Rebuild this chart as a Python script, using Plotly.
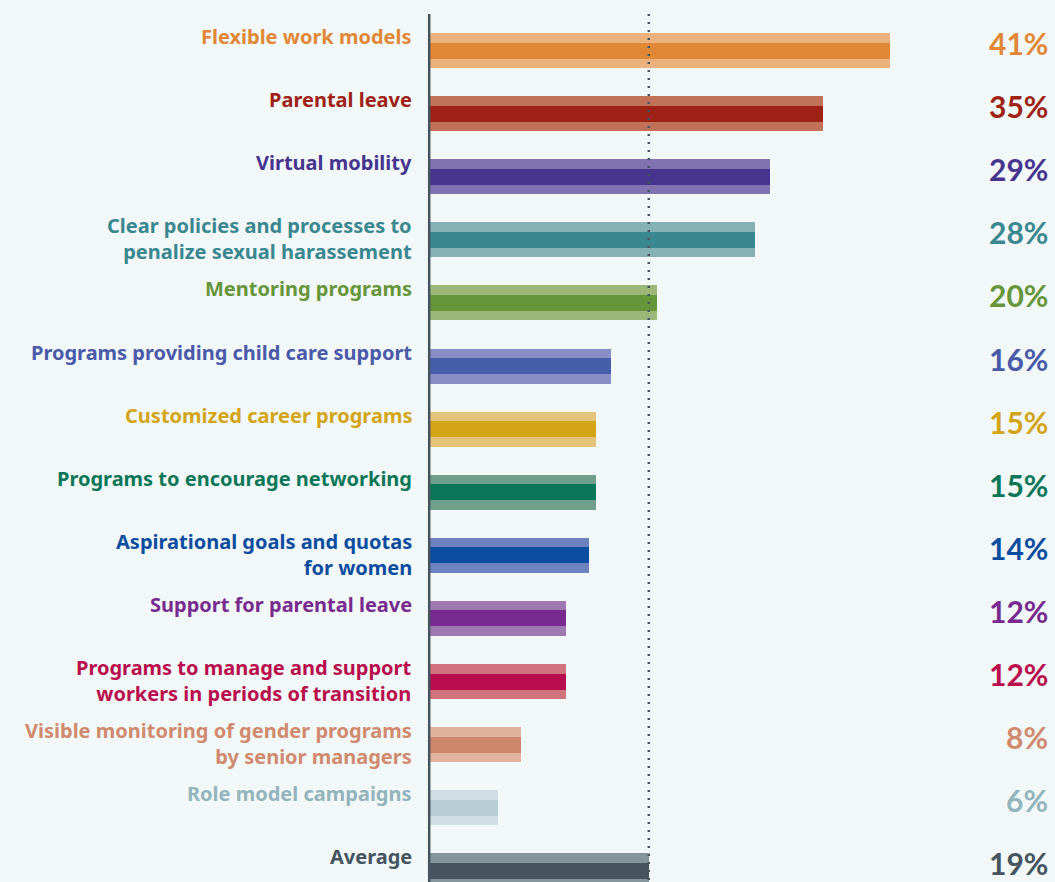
import plotly.graph_objects as go

categories = [
    "Flexible work models",
    "Parental leave",
    "Virtual mobility",
    "Clear policies and processes to<br>penalize sexual harassement",
    "Mentoring programs",
    "Programs providing child care support",
    "Customized career programs",
    "Programs to encourage networking",
    "Aspirational goals and quotas<br>for women",
    "Support for parental leave",
    "Programs to manage and support<br>workers in periods of transition",
    "Visible monitoring of gender programs<br>by senior managers",
    "Role model campaigns",
    "Average",
]
values = [41.0, 35.0, 30.3, 29.0, 20.2, 16.1, 14.8, 14.8, 14.2, 12.1, 12.1, 8.1, 6.1, 19.5]
value_labels = ["41%", "35%", "29%", "28%", "20%", "16%", "15%", "15%", "14%", "12%", "12%", "8%", "6%", "19%"]
dark_colors = ["#e08836", "#9e2216", "#46358f", "#3a8790", "#669639", "#465ea9", "#d3a517",
               "#0b7758", "#0c4d9f", "#782b8e", "#b90e4e", "#cd8669", "#b6ced4", "#45545f"]
light_colors = ["#ecb27d", "#c27258", "#8173b2", "#85b0b6", "#9bb879", "#8a8ec6", "#e3c47a",
                "#70a08b", "#6e82c0", "#a078b2", "#d1737f", "#e0b39f", "#d0dfe3", "#85959c"]
text_colors = ["#e08836", "#9e2216", "#46358f", "#3a8790", "#669639", "#4a5aa8", "#d3a517",
               "#0b7758", "#0c4d9f", "#782b8e", "#b90e4e", "#d08a6e", "#93b4bb", "#45545f"]
average_value = 19.5

BG = "#f2f7f7"
ypos = list(range(len(categories)))
spacing = 63.1
y_top = -50.5 / spacing
y_bot = y_top + 882 / spacing
px_per_unit = 460 / 41
x_max = 625 / px_per_unit

fig = go.Figure()
fig.add_trace(go.Bar(x=values, y=ypos, orientation="h", width=35 / spacing,
                     marker=dict(color=light_colors, line=dict(width=0)),
                     hoverinfo="skip", showlegend=False))
fig.add_trace(go.Bar(x=values, y=ypos, orientation="h", width=16 / spacing,
                     marker=dict(color=dark_colors, line=dict(width=0)),
                     hoverinfo="skip", showlegend=False))

line_top_paper = 1 - 14 / 882
fig.add_shape(type="line", x0=average_value, x1=average_value, y0=line_top_paper, y1=0,
              xref="x", yref="paper", line=dict(color="#45545f", width=2.5, dash="2px,6px"), layer="above")
fig.add_shape(type="line", x0=-0.8 / 625, x1=-0.8 / 625, y0=line_top_paper, y1=-0.01,
              xref="paper", yref="paper", line=dict(color="#45545f", width=2.5), layer="above")

bar_half = 35 / spacing / 2
for i, (cat, lab, col) in enumerate(zip(categories, value_labels, text_colors)):
    fig.add_annotation(x=-16 / 625, xref="paper", y=i - bar_half, yref="y",
                       text="<b>" + cat + "</b>", showarrow=False, xanchor="right", yanchor="top",
                       align="right", yshift=12,
                       font=dict(family="Noto Sans", size=20, color=col))
    fig.add_annotation(x=(1050 - 430) / 625, xref="paper", y=i, yref="y",
                       text="<b>" + lab + "</b>", showarrow=False, xanchor="right", yanchor="middle",
                       yshift=7.5,
                       font=dict(family="Lato", size=30, color=col))

fig.update_layout(
    width=1055, height=882,
    margin=dict(l=430, r=0, t=0, b=0, pad=0),
    paper_bgcolor=BG, plot_bgcolor=BG,
    barmode="overlay",
    bargap=0,
    xaxis=dict(range=[0, x_max], visible=False, fixedrange=True),
    yaxis=dict(range=[y_bot, y_top], visible=False, fixedrange=True),
)

fig.write_html("out.html", config={"displayModeBar": False},
               post_script="document.body.style.margin='0';document.body.style.padding='0';"
                           "document.body.style.background='" + BG + "';")
